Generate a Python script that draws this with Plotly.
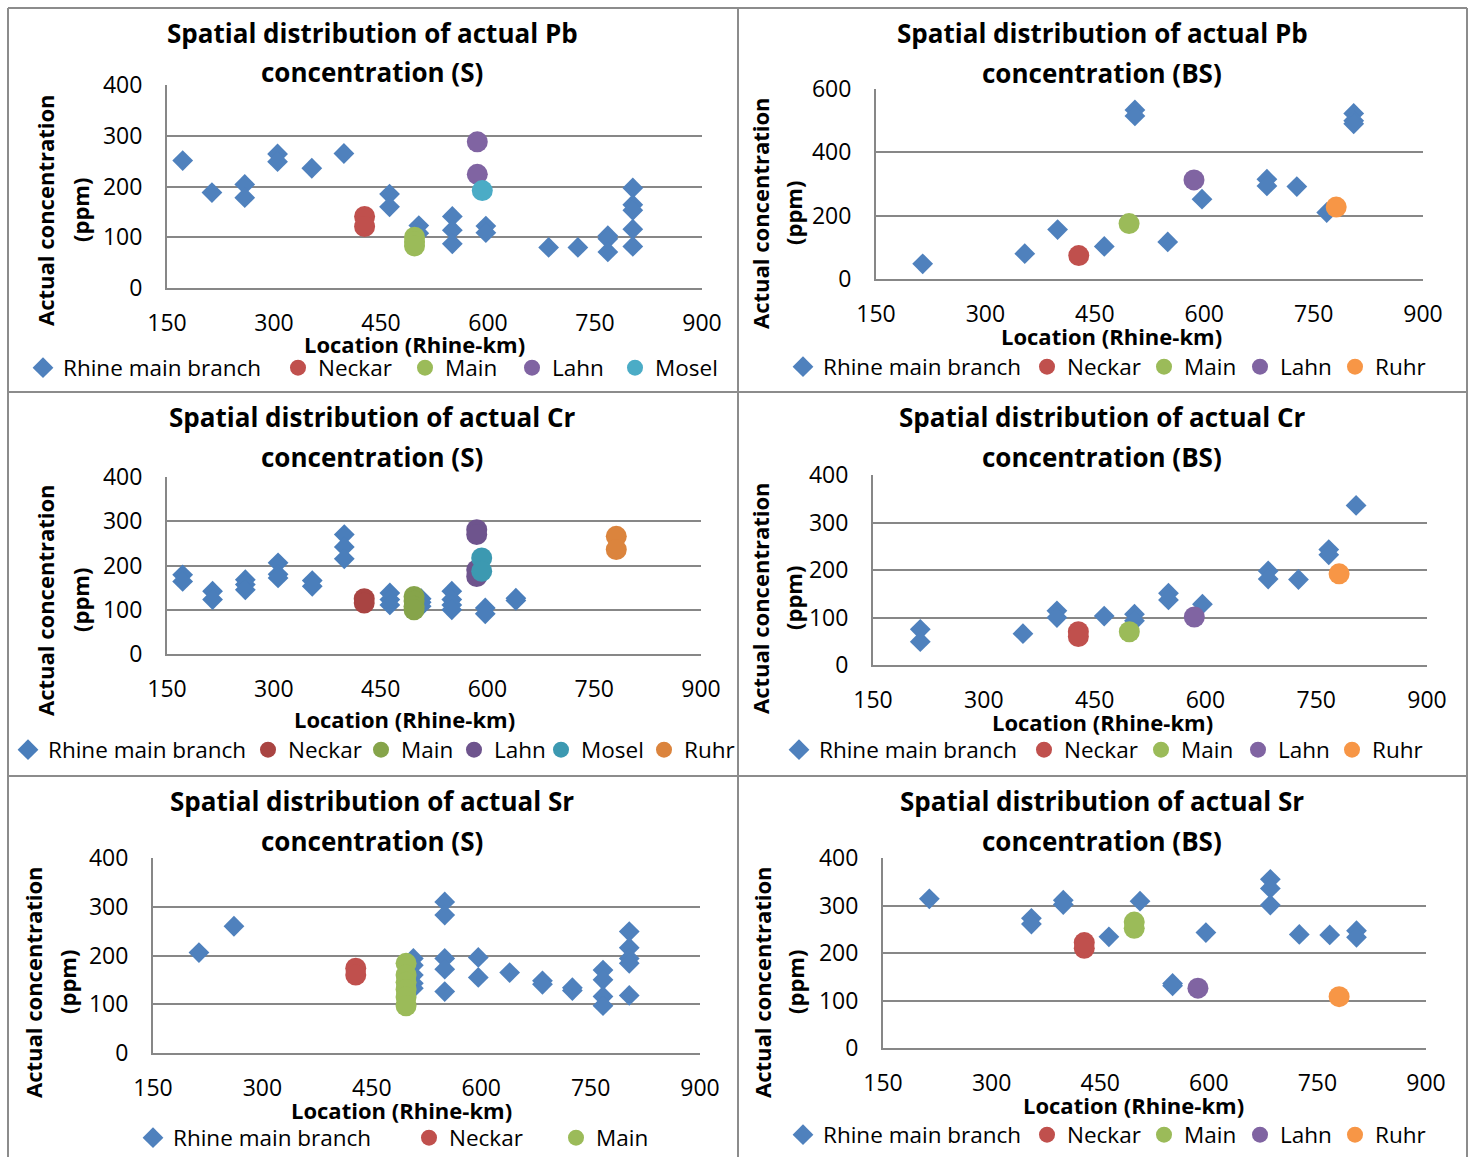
import plotly.graph_objects as go

# ---------------- data (Rhine-km, ppm) ----------------
# Pb, suspended sediment (S)
pb_s_rhine_x = [172, 213, 259, 259, 305, 305, 353, 398, 462, 462, 503, 503, 550, 550, 550,
                597, 597, 685, 726, 768, 768, 768, 803, 803, 803, 803, 803]
pb_s_rhine_y = [251, 188, 204, 178, 264, 249, 236, 265, 185, 160, 123, 108, 141, 114, 87,
                122, 109, 80, 80, 103, 97, 71, 197, 164, 153, 116, 82]
pb_s_neckar_x = [427, 427]
pb_s_neckar_y = [141, 121]
pb_s_main_x = [497, 497, 497]
pb_s_main_y = [100, 91, 83]
pb_s_lahn_x = [585, 585]
pb_s_lahn_y = [288, 224]
pb_s_mosel_x = [592]
pb_s_mosel_y = [192]

# Pb, bottom sediment (BS)
pb_bs_rhine_x = [214, 354, 399, 463, 505, 505, 550, 597, 686, 686, 727, 768, 805, 805, 805]
pb_bs_rhine_y = [48, 80, 156, 103, 534, 515, 117, 252, 315, 294, 292, 210, 523, 500, 490]
pb_bs_neckar_x = [428]
pb_bs_neckar_y = [74]
pb_bs_main_x = [497]
pb_bs_main_y = [175]
pb_bs_lahn_x = [586]
pb_bs_lahn_y = [313]
pb_bs_ruhr_x = [781]
pb_bs_ruhr_y = [227]

# Cr, suspended sediment (S)
cr_s_rhine_x = [172, 172, 214, 214, 260, 260, 260, 306, 306, 306, 354, 354, 399, 399, 399,
                463, 463, 463, 507, 507, 507, 550, 550, 550, 550, 597, 597, 640, 640]
cr_s_rhine_y = [179, 164, 142, 123, 168, 157, 145, 206, 180, 172, 166, 153, 270, 242, 215,
                138, 123, 111, 125, 117, 108, 142, 123, 111, 100, 104, 91, 126, 121]
cr_s_neckar_x = [427, 427]
cr_s_neckar_y = [125, 115]
cr_s_main_x = [497, 497, 497, 497]
cr_s_main_y = [130, 120, 108, 100]
cr_s_lahn_x = [585, 585, 585, 585]
cr_s_lahn_y = [281, 270, 190, 175]
cr_s_mosel_x = [592, 592]
cr_s_mosel_y = [217, 187]
cr_s_ruhr_x = [781, 781]
cr_s_ruhr_y = [266, 236]

# Cr, bottom sediment (BS)
cr_bs_rhine_x = [214, 214, 353, 399, 399, 463, 504, 504, 550, 550, 596, 685, 685, 726, 767, 767, 804]
cr_bs_rhine_y = [75, 49, 66, 114, 100, 103, 107, 93, 151, 137, 128, 198, 181, 180, 243, 232, 336]
cr_bs_neckar_x = [428, 428]
cr_bs_neckar_y = [70, 60]
cr_bs_main_x = [497]
cr_bs_main_y = [70]
cr_bs_lahn_x = [585]
cr_bs_lahn_y = [101]
cr_bs_ruhr_x = [781]
cr_bs_ruhr_y = [192]

# Sr, suspended sediment (S)
sr_s_rhine_x = [213, 261, 507, 507, 507, 507, 507, 550, 550, 550, 550, 550, 596, 596, 639,
                684, 684, 725, 725, 767, 767, 767, 767, 803, 803, 803, 803, 803]
sr_s_rhine_y = [206, 260, 194, 180, 160, 143, 133, 310, 283, 194, 172, 126, 196, 155, 165,
                148, 141, 134, 128, 170, 150, 116, 97, 249, 216, 194, 184, 118]
sr_s_neckar_x = [428, 428]
sr_s_neckar_y = [174, 160]
sr_s_main_x = [497, 497, 497, 497, 497, 497]
sr_s_main_y = [184, 160, 145, 130, 115, 97]

# Sr, bottom sediment (BS)
sr_bs_rhine_x = [214, 355, 355, 399, 399, 462, 505, 550, 550, 596, 685, 685, 685, 725, 767, 804, 804]
sr_bs_rhine_y = [314, 273, 261, 311, 302, 234, 309, 136, 131, 243, 355, 336, 301, 239, 238, 247, 233]
sr_bs_neckar_x = [428, 428]
sr_bs_neckar_y = [222, 210]
sr_bs_main_x = [497, 497]
sr_bs_main_y = [265, 252]
sr_bs_lahn_x = [585]
sr_bs_lahn_y = [126]
sr_bs_ruhr_x = [780]
sr_bs_ruhr_y = [108]

x_ticks = [150, 300, 450, 600, 750, 900]

# ---------------- styling ----------------
W, H = 1470, 1157
FONT = "Open Sans"
GRID = "#878787"

light = {"Rhine main branch": "#4F81BD", "Neckar": "#C0504D", "Main": "#9BBB59",
         "Lahn": "#8064A2", "Mosel": "#4BACC6", "Ruhr": "#F79646"}
dark = {"Rhine main branch": "#4A7EBB", "Neckar": "#A94442", "Main": "#86A44A",
        "Lahn": "#6E548D", "Mosel": "#3C99B1", "Ruhr": "#DB843D"}


def fx(p):
    return p / W


def fy(p):
    return 1 - p / H


panels = [
    dict(element="Pb", kind="S", ymax=400, ydt=100, colors=light,
         box=(167, 702, 85, 288), title_x=372, title_y=(33, 72),
         ytitle=(45, 80, 210), xtitle=(415, 344),
         legend=([45, 300, 427, 534, 637], 368),
         series=[("Rhine main branch", pb_s_rhine_x, pb_s_rhine_y),
                 ("Neckar", pb_s_neckar_x, pb_s_neckar_y),
                 ("Main", pb_s_main_x, pb_s_main_y),
                 ("Lahn", pb_s_lahn_x, pb_s_lahn_y),
                 ("Mosel", pb_s_mosel_x, pb_s_mosel_y)]),
    dict(element="Pb", kind="BS", ymax=600, ydt=200, colors=light,
         box=(876, 1423, 89, 279), title_x=1102, title_y=(33, 73),
         ytitle=(760, 793, 213), xtitle=(1111, 336),
         legend=([805, 1049, 1166, 1262, 1357], 367),
         series=[("Rhine main branch", pb_bs_rhine_x, pb_bs_rhine_y),
                 ("Neckar", pb_bs_neckar_x, pb_bs_neckar_y),
                 ("Main", pb_bs_main_x, pb_bs_main_y),
                 ("Lahn", pb_bs_lahn_x, pb_bs_lahn_y),
                 ("Ruhr", pb_bs_ruhr_x, pb_bs_ruhr_y)]),
    dict(element="Cr", kind="S", ymax=400, ydt=100, colors=dark,
         box=(167, 701, 477, 654), title_x=372, title_y=(417, 457),
         ytitle=(45, 80, 600), xtitle=(404, 719),
         legend=([30, 270, 383, 476, 563, 666], 750),
         series=[("Rhine main branch", cr_s_rhine_x, cr_s_rhine_y),
                 ("Neckar", cr_s_neckar_x, cr_s_neckar_y),
                 ("Main", cr_s_main_x, cr_s_main_y),
                 ("Lahn", cr_s_lahn_x, cr_s_lahn_y),
                 ("Mosel", cr_s_mosel_x, cr_s_mosel_y),
                 ("Ruhr", cr_s_ruhr_x, cr_s_ruhr_y)]),
    dict(element="Cr", kind="BS", ymax=400, ydt=100, colors=light,
         box=(873, 1427, 475, 665), title_x=1102, title_y=(417, 457),
         ytitle=(760, 793, 598), xtitle=(1102, 722),
         legend=([801, 1046, 1163, 1260, 1354], 750),
         series=[("Rhine main branch", cr_bs_rhine_x, cr_bs_rhine_y),
                 ("Neckar", cr_bs_neckar_x, cr_bs_neckar_y),
                 ("Main", cr_bs_main_x, cr_bs_main_y),
                 ("Lahn", cr_bs_lahn_x, cr_bs_lahn_y),
                 ("Ruhr", cr_bs_ruhr_x, cr_bs_ruhr_y)]),
    dict(element="Sr", kind="S", ymax=400, ydt=100, colors=light,
         box=(153, 700, 858, 1053), title_x=372, title_y=(801, 841),
         ytitle=(33, 67, 982), xtitle=(401, 1110),
         legend=([155, 431, 578], 1138),
         series=[("Rhine main branch", sr_s_rhine_x, sr_s_rhine_y),
                 ("Neckar", sr_s_neckar_x, sr_s_neckar_y),
                 ("Main", sr_s_main_x, sr_s_main_y)]),
    dict(element="Sr", kind="BS", ymax=400, ydt=100, colors=light,
         box=(883, 1426, 858, 1048), title_x=1102, title_y=(801, 841),
         ytitle=(762, 795, 982), xtitle=(1133, 1105),
         legend=([805, 1049, 1166, 1262, 1357], 1135),
         series=[("Rhine main branch", sr_bs_rhine_x, sr_bs_rhine_y),
                 ("Neckar", sr_bs_neckar_x, sr_bs_neckar_y),
                 ("Main", sr_bs_main_x, sr_bs_main_y),
                 ("Lahn", sr_bs_lahn_x, sr_bs_lahn_y),
                 ("Ruhr", sr_bs_ruhr_x, sr_bs_ruhr_y)]),
]

fig = go.Figure()
annotations = []
layout = {}
legend_no = 0

for i, p in enumerate(panels, start=1):
    sfx = "" if i == 1 else str(i)
    sym_xs, leg_y = p["legend"]
    for (name, xs, ys), sym_x in zip(p["series"], sym_xs):
        legend_no += 1
        leg = "legend" if legend_no == 1 else f"legend{legend_no}"
        diamond = name == "Rhine main branch"
        fig.add_trace(go.Scatter(
            x=xs, y=ys, mode="markers", name=name,
            xaxis="x" + sfx, yaxis="y" + sfx, legend=leg,
            marker=dict(symbol="diamond" if diamond else "circle",
                        size=16 if diamond else 21,
                        color=p["colors"][name], line=dict(width=0)),
        ))
        # one legend entry per series, placed under its own chart
        layout[leg] = dict(
            orientation="h", x=fx(sym_x - 22), y=fy(leg_y), xanchor="left", yanchor="middle",
            font=dict(family=FONT, size=22.5, color="black"), bgcolor="rgba(0,0,0,0)",
            borderwidth=0, itemwidth=30,
        )

    x0, x1, y0, y1 = p["box"]
    layout["xaxis" + sfx] = dict(
        domain=[fx(x0), fx(x1)], anchor="y" + sfx, range=[150, 900],
        tickvals=x_ticks, showgrid=False, zeroline=False, automargin=False,
        showline=True, linecolor=GRID, linewidth=2, ticks="",
        ticklabelstandoff=13, tickfont=dict(family=FONT, size=23, color="black"),
    )
    layout["yaxis" + sfx] = dict(
        domain=[fy(y1), fy(y0)], anchor="x" + sfx, range=[0, p["ymax"]],
        dtick=p["ydt"], tick0=0, showgrid=True, gridcolor=GRID, gridwidth=2,
        zeroline=False, showline=True, linecolor=GRID, linewidth=2, ticks="",
        automargin=False,
        ticklabelstandoff=18, tickfont=dict(family=FONT, size=23, color="black"),
    )

    # chart title on two lines
    t1, t2 = p["title_y"]
    for txt, ty in ((f"Spatial distribution of actual {p['element']}", t1),
                    (f"concentration ({p['kind']})", t2)):
        annotations.append(dict(
            text=txt, x=fx(p["title_x"]), y=fy(ty), xref="paper", yref="paper",
            xanchor="center", yanchor="middle", showarrow=False,
            font=dict(family=FONT, size=26, color="black", weight="bold")))

    # y axis title, two rotated lines
    a1, a2, ay = p["ytitle"]
    for txt, ax in (("Actual concentration", a1), ("(ppm)", a2)):
        annotations.append(dict(
            text=txt, x=fx(ax), y=fy(ay), xref="paper", yref="paper",
            xanchor="center", yanchor="middle", showarrow=False, textangle=-90,
            font=dict(family=FONT, size=22, color="black", weight="bold")))

    # x axis title
    bx, by = p["xtitle"]
    annotations.append(dict(
        text="Location (Rhine-km)", x=fx(bx), y=fy(by), xref="paper", yref="paper",
        xanchor="center", yanchor="middle", showarrow=False,
        font=dict(family=FONT, size=22, color="black", weight="bold")))

# frame lines separating the six charts
frame = dict(type="line", xref="paper", yref="paper", line=dict(color="#8C8C8C", width=2))
shapes = [
    dict(frame, x0=fx(8), x1=fx(8), y0=fy(8), y1=fy(1157)),
    dict(frame, x0=fx(1467), x1=fx(1467), y0=fy(8), y1=fy(1157)),
    dict(frame, x0=fx(8), x1=fx(1467), y0=fy(8), y1=fy(8)),
    dict(frame, x0=fx(738), x1=fx(738), y0=fy(8), y1=fy(1157)),
    dict(frame, x0=fx(8), x1=fx(1467), y0=fy(392), y1=fy(392)),
    dict(frame, x0=fx(8), x1=fx(1467), y0=fy(776), y1=fy(776)),
]

fig.update_layout(
    width=W, height=H, margin=dict(l=0, r=0, t=0, b=0, autoexpand=False),
    paper_bgcolor="white", plot_bgcolor="white",
    font=dict(family=FONT, color="black"),
    annotations=annotations, shapes=shapes, showlegend=True,
    **layout,
)

fig.write_html("out.html")
